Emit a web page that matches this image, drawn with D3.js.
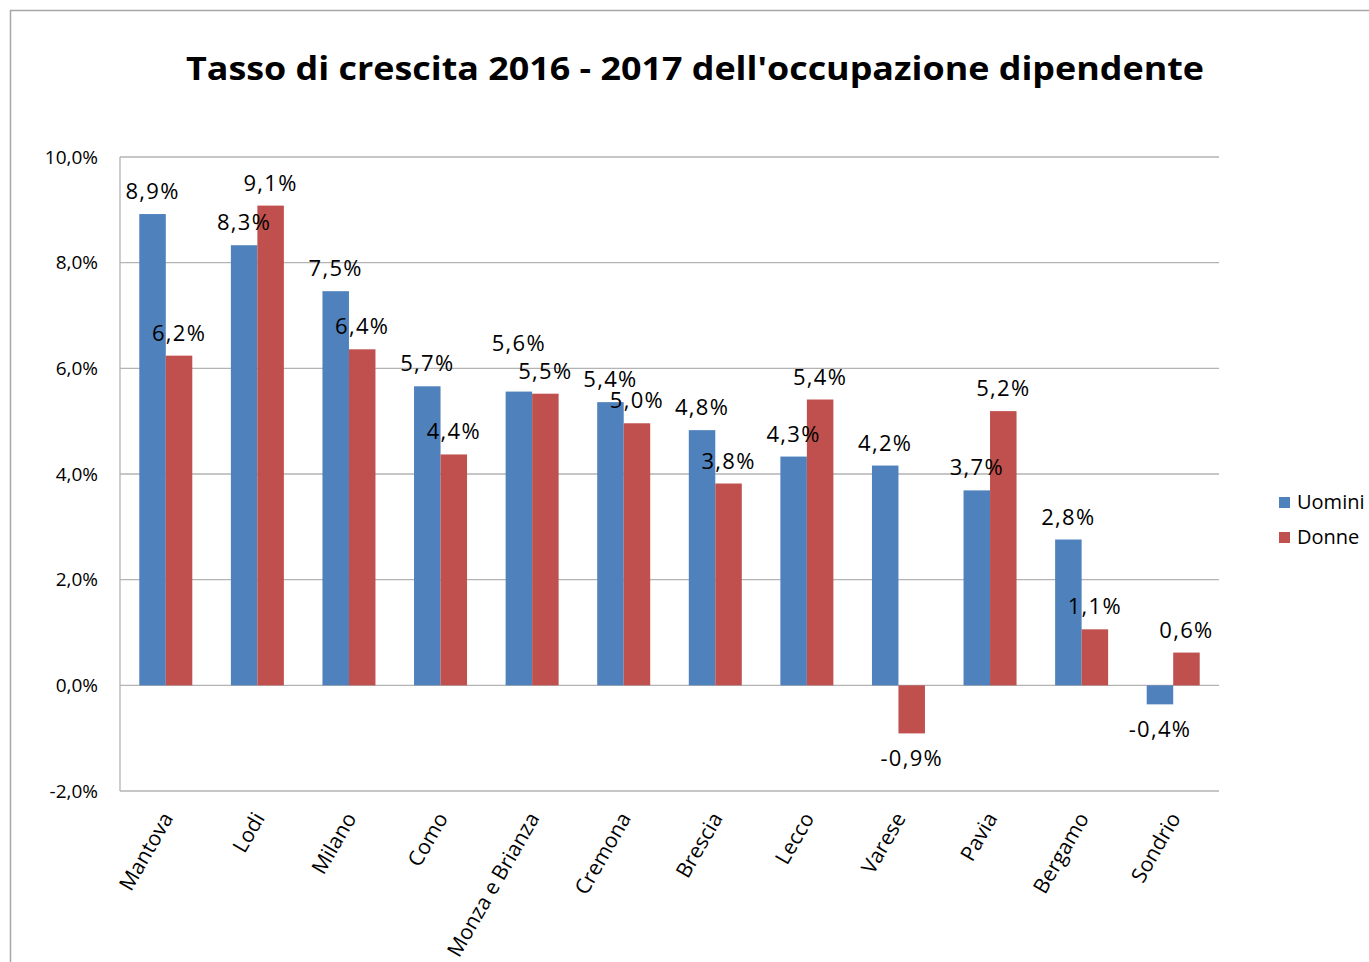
<!DOCTYPE html>
<meta charset="utf-8">
<style>
body { margin: 0; background: #fff; }
text { font-family: "Open Sans", sans-serif; fill: #000; }
.grid line { stroke: #b3b3b3; stroke-width: 1.3px; }
</style>
<body>
<svg width="1369" height="962"></svg>
<script src="https://d3js.org/d3.v7.min.js"></script>
<script>

// data
var province = ["Mantova","Lodi","Milano","Como","Monza e Brianza","Cremona","Brescia","Lecco","Varese","Pavia","Bergamo","Sondrio"];
var uomini = [8.92, 8.33, 7.46, 5.66, 5.56, 5.36, 4.83, 4.33, 4.16, 3.69, 2.76, -0.36];
var donne  = [6.24, 9.08, 6.36, 4.37, 5.52, 4.96, 3.82, 5.41, -0.91, 5.19, 1.06, 0.62];
var serie = ["Uomini","Donne"];
var colori = ["#4f81bd","#c0504d"];
var yTicks = [-2, 0, 2, 4, 6, 8, 10];

var svg = d3.select("svg");

// outer frame (runs past the right/bottom edge)
svg.append("rect")
  .attr("x", 10.5).attr("y", 10.5)
  .attr("width", 1500).attr("height", 1100)
  .attr("fill", "none").attr("stroke", "#a6a6a6").attr("stroke-width", 1.5);

var pLeft = 120, pRight = 1219, pTop = 157, pBottom = 791;

var x0 = d3.scaleBand().domain(province).range([pLeft, pRight]).padding(0);
var x1 = d3.scaleBand().domain(serie).range([0, x0.bandwidth()]).paddingInner(0).paddingOuter(0.728);
var y = d3.scaleLinear().domain([-2, 10]).range([pBottom, pTop]);

var fmt = function(v){ return d3.format(".1f")(v).replace(".", ",").replace("−","-") + "%"; };

// gridlines
var g = svg.append("g").attr("class", "grid");
g.selectAll("line.h").data(yTicks).enter().append("line")
  .attr("x1", pLeft).attr("x2", pRight)
  .attr("y1", d => y(d)).attr("y2", d => y(d));
g.append("line").attr("x1", pLeft).attr("x2", pLeft).attr("y1", pTop).attr("y2", pBottom);

// y labels
svg.append("g").selectAll("text").data(yTicks).enter().append("text")
  .attr("x", 98).attr("y", d => y(d)).attr("dy", "0.35em")
  .attr("text-anchor", "end").attr("font-size", 19)
  .text(fmt);

// bars
var rows = province.map((p, i) => ({p: p, vals: [uomini[i], donne[i]]}));
var grp = svg.append("g").selectAll("g").data(rows).enter().append("g")
  .attr("transform", d => "translate(" + x0(d.p) + ",0)");

grp.selectAll("rect").data(d => d.vals.map((v, k) => ({k: serie[k], v: v, c: colori[k]})))
  .enter().append("rect")
  .attr("x", d => x1(d.k)).attr("width", x1.bandwidth())
  .attr("y", d => y(Math.max(0, d.v)))
  .attr("height", d => Math.abs(y(d.v) - y(0)))
  .attr("fill", d => d.c);

// label y: outside end, and lift the first label when the pair would collide
function labelY(vals, k) {
  var ly = vals.map(v => v >= 0 ? y(v) - 15 : y(v) + 33);
  if (k == 0 && vals[0] >= 0 && vals[1] >= 0 && Math.abs(ly[0] - ly[1]) < 20)
    return Math.min(ly[0], ly[1]) - 26 + (ly[0] > ly[1] ? 0 : 0);
  if (k == 1 && vals[0] >= 0 && vals[1] >= 0 && Math.abs(ly[0] - ly[1]) < 20)
    return Math.max(ly[0], ly[1]);
  return ly[k];
}

grp.selectAll("text").data(d => d.vals.map((v, k) => ({k: serie[k], v: v, y: labelY(d.vals, k)})))
  .enter().append("text")
  .attr("x", d => x1(d.k) + x1.bandwidth() / 2)
  .attr("y", d => d.y)
  .attr("text-anchor", "middle").attr("font-size", 22).attr("letter-spacing", 1.3)
  .text(d => fmt(d.v));

// category labels
svg.append("g").selectAll("text").data(province).enter().append("text")
  .attr("transform", d => "translate(" + (x0(d) + x0.bandwidth() / 2 + 8) + ",818) rotate(-60)")
  .attr("text-anchor", "end").attr("font-size", 21)
  .text(d => d);

// title
svg.append("text")
  .attr("x", 695).attr("y", 80)
  .attr("text-anchor", "middle").attr("font-size", 32).attr("font-weight", "bold")
  .attr("textLength", 1018).attr("lengthAdjust", "spacingAndGlyphs")
  .text("Tasso di crescita 2016 - 2017 dell'occupazione dipendente");

// legend
var leg = svg.append("g").selectAll("g").data(serie).enter().append("g")
  .attr("transform", (d, i) => "translate(1279," + (502 + i * 35) + ")");
leg.append("rect").attr("x", 0).attr("y", -5).attr("width", 11).attr("height", 11)
  .attr("fill", (d, i) => colori[i]);
leg.append("text").attr("x", 18).attr("y", 0).attr("dy", "0.35em")
  .attr("font-size", 20).text(d => d);

</script>
</body>
